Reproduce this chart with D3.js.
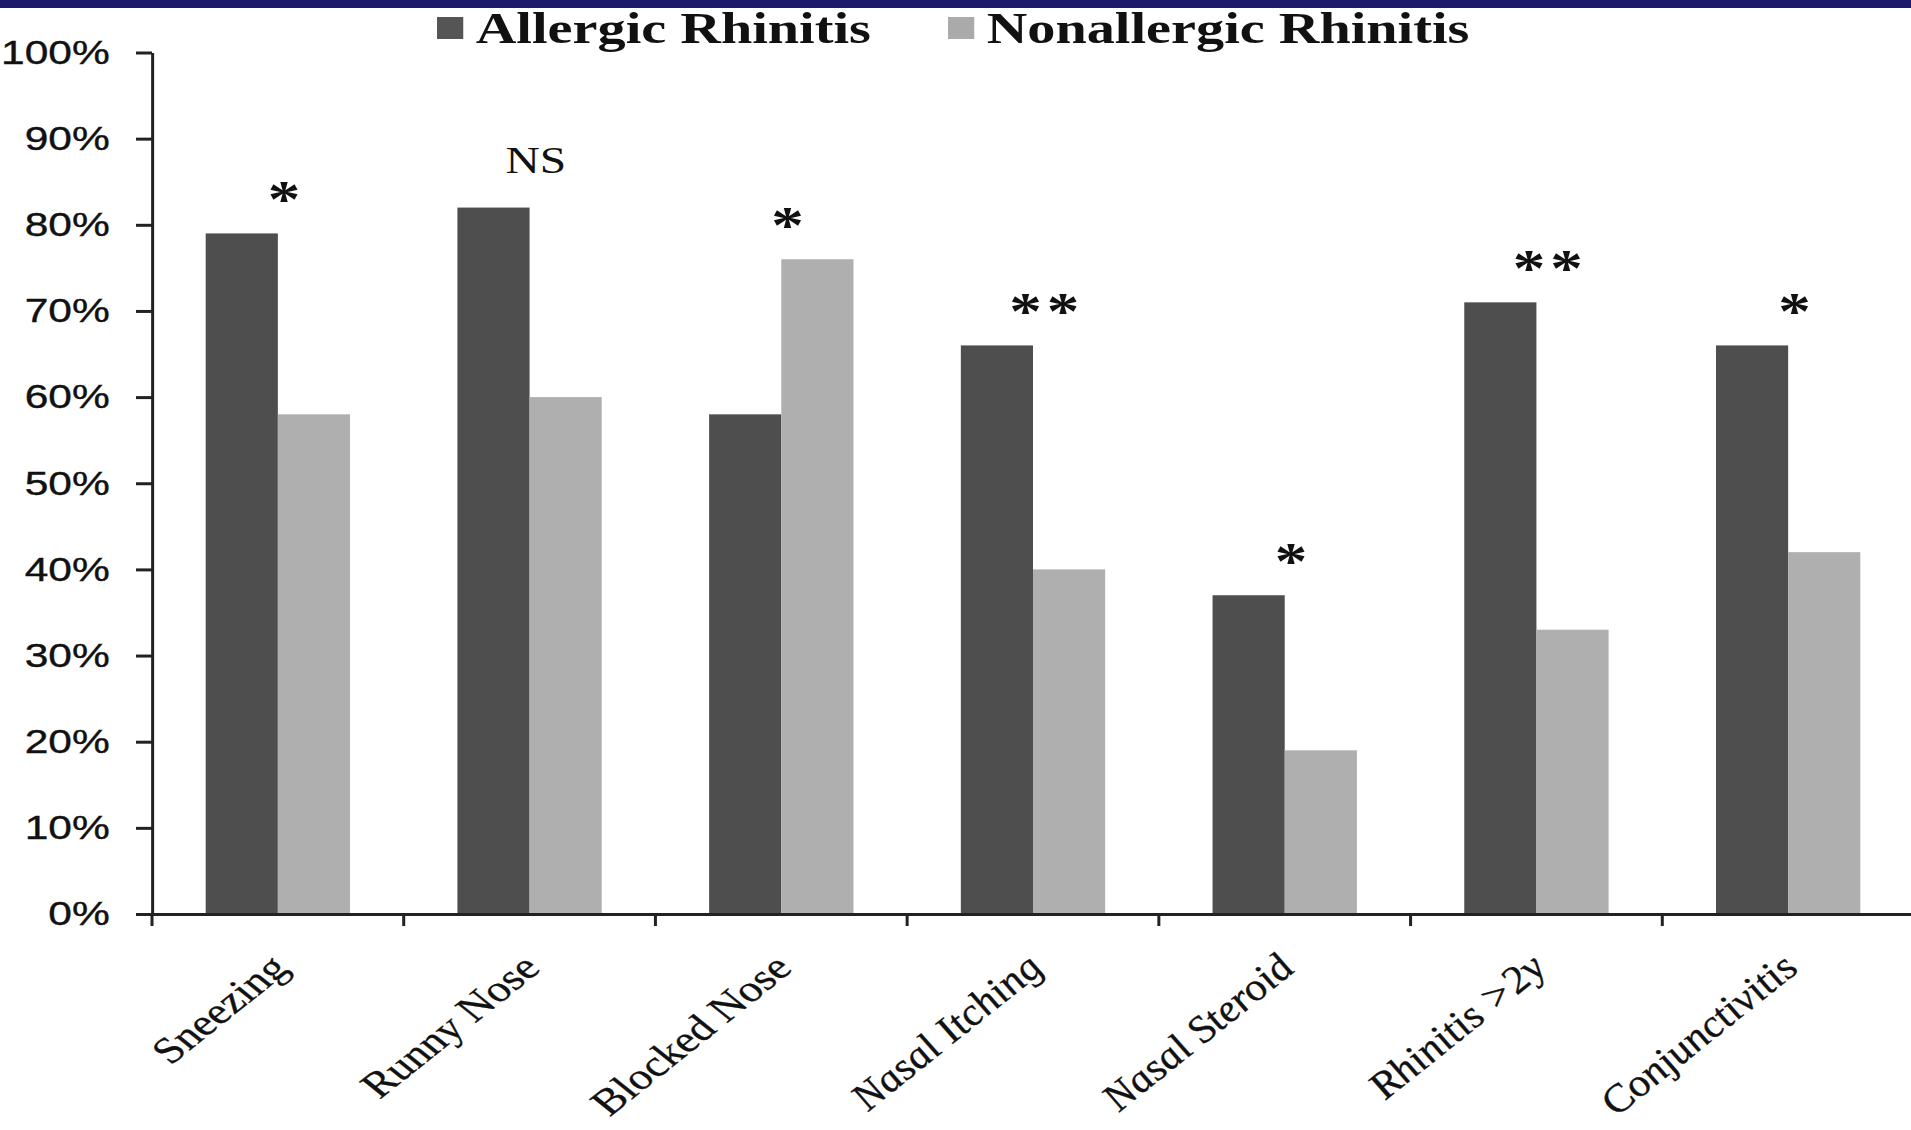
<!DOCTYPE html>
<html>
<head>
<meta charset="utf-8">
<script src="https://cdn.jsdelivr.net/npm/d3@7/dist/d3.min.js"></script>
<style>
  html, body { margin: 0; padding: 0; background: #ffffff; }
  svg { display: block; }
</style>
</head>
<body>
<svg id="chart" width="1911" height="1130"></svg>
<script>
// Symptom prevalence, allergic vs nonallergic rhinitis (percent of patients)
const categories = ["Sneezing", "Runny Nose", "Blocked Nose", "Nasal Itching", "Nasal Steroid", "Rhinitis >2y", "Conjunctivitis"];
const seriesNames = ["Allergic Rhinitis", "Nonallergic Rhinitis"];
const allergic = [79, 82, 58, 66, 37, 71, 66];
const nonallergic = [58, 60, 76, 40, 19, 33, 42];
const significance = ["*", "NS", "*", "**", "*", "**", "*"];
const yTicks = [0, 10, 20, 30, 40, 50, 60, 70, 80, 90, 100];

const WIDTH = 1911, HEIGHT = 1130;
// The whole figure is drawn with a wide horizontal aspect
const SX = 1.25;

const svg = d3.select("#chart");
svg.append("rect").attr("width", WIDTH).attr("height", HEIGHT).attr("fill", "#ffffff");
// Top banner strip
svg.append("rect").attr("x", 0).attr("y", 0).attr("width", WIDTH).attr("height", 8).attr("fill", "#1b1a6b");

const g = svg.append("g").attr("transform", `scale(${SX},1)`);

const colors = { "Allergic Rhinitis": "#4e4e4e", "Nonallergic Rhinitis": "#afafaf" };
const serif = "'Liberation Serif', 'Times New Roman', serif";
const sans = "'Liberation Sans', Arial, sans-serif";

const x0 = d3.scaleBand().domain(categories).range([152 / SX, 1914 / SX]).padding(0);
const x1 = d3.scaleBand().domain(seriesNames).range([0, x0.bandwidth()]).paddingInner(0).paddingOuter(0.744);
const y = d3.scaleLinear().domain([0, 100]).range([914, 52.5]);

const rows = categories.map((c, i) => ({
  category: c,
  values: [
    { series: seriesNames[0], value: allergic[i] },
    { series: seriesNames[1], value: nonallergic[i] }
  ],
  mark: significance[i]
}));

// Bars
const groups = g.append("g").selectAll("g").data(rows).join("g")
  .attr("transform", d => `translate(${x0(d.category)},0)`);
groups.selectAll("rect").data(d => d.values).join("rect")
  .attr("x", d => x1(d.series))
  .attr("width", x1.bandwidth())
  .attr("y", d => y(d.value))
  .attr("height", d => y(0) - y(d.value))
  .attr("fill", d => colors[d.series]);

// Y axis
const yAxis = g.append("g")
  .attr("transform", `translate(${152 / SX},0)`)
  .call(d3.axisLeft(y).tickValues(yTicks).tickFormat(d => d + "%")
    .tickSize(12.8).tickSizeOuter(0).tickPadding(21));
yAxis.selectAll("path, line")
  .attr("stroke", "#222").attr("stroke-width", 3).attr("vector-effect", "non-scaling-stroke");
yAxis.selectAll("text")
  .attr("font-family", sans).attr("font-size", 34).attr("fill", "#111")
  .attr("stroke", "#111").attr("stroke-width", 0.4);

// X axis line with ticks at category boundaries
const xAxis = g.append("g").attr("transform", `translate(0,${y(0)})`)
  .call(d3.axisBottom(x0).tickSize(0).tickSizeOuter(0).tickFormat(""));
xAxis.selectAll("path")
  .attr("stroke", "#222").attr("stroke-width", 3).attr("vector-effect", "non-scaling-stroke");
xAxis.selectAll(".tick").remove();
const boundaries = categories.map(c => x0(c)).concat([x0.range()[1]]);
xAxis.selectAll("line.bound").data(boundaries).join("line")
  .attr("class", "bound")
  .attr("x1", d => d).attr("x2", d => d)
  .attr("y1", 0).attr("y2", 12)
  .attr("stroke", "#222").attr("stroke-width", 3).attr("vector-effect", "non-scaling-stroke");

// Category labels, slanted
g.append("g").selectAll("text").data(categories).join("text")
  .attr("transform", d => `translate(${x0(d) + x0.bandwidth() / 2 + 10},${y(0) + 56}) rotate(-45)`)
  .attr("text-anchor", "end")
  .attr("font-family", serif)
  .attr("font-size", 37)
  .attr("font-style", (d, i) => i >= 3 ? "italic" : "normal")
  .attr("fill", "#111")
  .attr("stroke", "#111").attr("stroke-width", 0.3)
  .text(d => d);

// Significance markers above each pair
g.append("g").selectAll("text").data(rows).join("text")
  .attr("x", d => x0(d.category) + x0.bandwidth() / 2 + (d.mark === "**" ? 11 : 5))
  .attr("y", d => {
    const top = y(d3.max(d.values, v => v.value));
    return d.mark === "NS" ? top - 35 : top - 40 + 24;
  })
  .attr("text-anchor", "middle")
  .attr("font-family", serif)
  .attr("font-weight", d => d.mark === "NS" ? "normal" : "bold")
  .attr("font-size", d => d.mark === "NS" ? 38 : 52)
  .attr("letter-spacing", d => d.mark === "**" ? 4 : 0)
  .attr("fill", "#111")
  .text(d => d.mark);

// Legend
const legendX = [349.6, 758.4];
const legend = g.append("g").selectAll("g").data(seriesNames).join("g")
  .attr("transform", (d, i) => `translate(${legendX[i]},0)`);
legend.append("rect")
  .attr("x", 0).attr("y", 17).attr("width", 21).attr("height", 22)
  .attr("fill", d => d === seriesNames[0] ? "#555555" : "#aaaaaa");
legend.append("text")
  .attr("x", 31).attr("y", 43)
  .attr("font-family", serif).attr("font-weight", "bold").attr("font-size", 45)
  .attr("fill", "#111")
  .text(d => d);
</script>
</body>
</html>
